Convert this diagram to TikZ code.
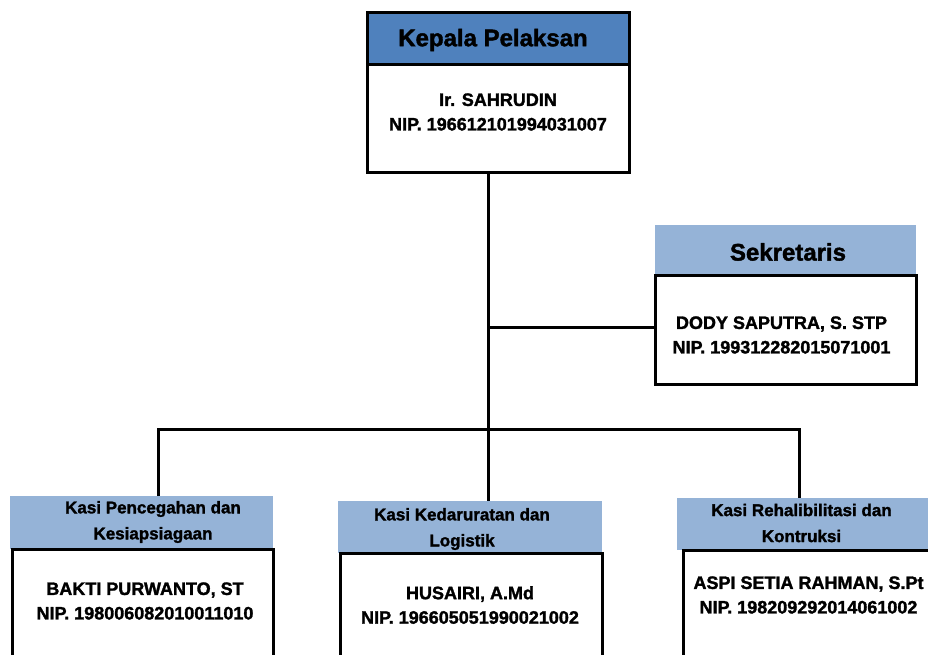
\documentclass[tikz,border=0pt]{standalone}
\usepackage{fontspec}
\setmainfont{Liberation Sans}[BoldFeatures={FakeBold=1.6}]
\definecolor{darkhdr}{HTML}{4F81BD}
\definecolor{lighthdr}{HTML}{95B3D7}
\begin{document}
\begin{tikzpicture}[x=1pt,y=-1pt,
  wire/.style={draw=black,line width=3pt},
  darkbox/.style={draw=black,line width=3pt,fill=darkhdr,inner sep=0pt},
  lightbox/.style={fill=lighthdr,draw=none,inner sep=0pt},
  whitebox/.style={draw=black,line width=3pt,fill=white,inner sep=0pt},
  bigtext/.style={font=\bfseries\fontsize{24}{28}\selectfont,text=black,inner sep=0pt},
  hdrtext/.style={font=\bfseries\fontsize{17}{26}\selectfont,align=center,text=black,inner sep=0pt},
  nametext/.style={font=\bfseries\fontsize{18}{24.5}\selectfont,align=center,text=black,inner sep=0pt}]
\useasboundingbox (0,0) rectangle (928,655);
\clip (0,0) rectangle (928,655);

% connector junctions
\coordinate (bus) at (488,429);
\coordinate (sbus) at (488,327);
\coordinate (lbus) at (158,429);
\coordinate (rbus) at (799,429);

% top box
\node[whitebox,minimum width=262pt,minimum height=108pt] (kbody) at (498,119) {};
\node[darkbox,minimum width=262pt,minimum height=52pt] (khdr) at (498,39) {};
\node[bigtext] (ktitle) at (493,40) {Kepala Pelaksan};
\node[nametext] (kname) at (498,112) {Ir. SAHRUDIN\\NIP. 196612101994031007};

% secretary
\node[lightbox,minimum width=261pt,minimum height=50pt] (shdr) at (785.5,250) {};
\node[whitebox,minimum width=261pt,minimum height=109pt] (sbody) at (785.5,329.5) {};
\node[bigtext] (stitle) at (788,252) {Sekretaris};
\node[nametext] (sname) at (781.5,335) {DODY SAPUTRA, S. STP\\NIP. 199312282015071001};

% bottom left
\node[lightbox,minimum width=263pt,minimum height=53pt] (lhdr) at (141.5,522.5) {};
\node[whitebox,minimum width=261pt,minimum height=151pt] (lbody) at (142.5,624.5) {};
\node[hdrtext] (ltitle) at (153,522) {Kasi Pencegahan dan\\Kesiapsiagaan};
\node[nametext] (lname) at (145,601) {BAKTI PURWANTO, ST\\NIP. 198006082010011010};

% bottom middle
\node[lightbox,minimum width=264pt,minimum height=52pt] (mhdr) at (470,527) {};
\node[whitebox,minimum width=262pt,minimum height=147pt] (mbody) at (471,626.5) {};
\node[hdrtext] (mtitle) at (462,529) {Kasi Kedaruratan dan\\Logistik};
\node[nametext] (mname) at (470,605) {HUSAIRI, A.Md\\NIP. 196605051990021002};

% bottom right
\node[lightbox,minimum width=258pt,minimum height=52pt] (rhdr) at (806,524) {};
\node[whitebox,minimum width=257pt,minimum height=150pt] (rbody) at (811.5,625) {};
\node[hdrtext] (rtitle) at (801.5,523) {Kasi Rehalibilitasi dan\\Kontruksi};
\node[nametext] (rname) at (808.5,595) {ASPI SETIA RAHMAN, S.Pt\\NIP. 198209292014061002};

% wires
\draw[wire] (kbody.south -| bus) -- (bus) -- (mhdr.north -| bus);
\draw[wire] (sbus) -- (sbody.west |- sbus);
\draw[wire] (lhdr.north -| lbus) -- (lbus) -- (rbus) -- (rhdr.north -| rbus);
\end{tikzpicture}
\end{document}
